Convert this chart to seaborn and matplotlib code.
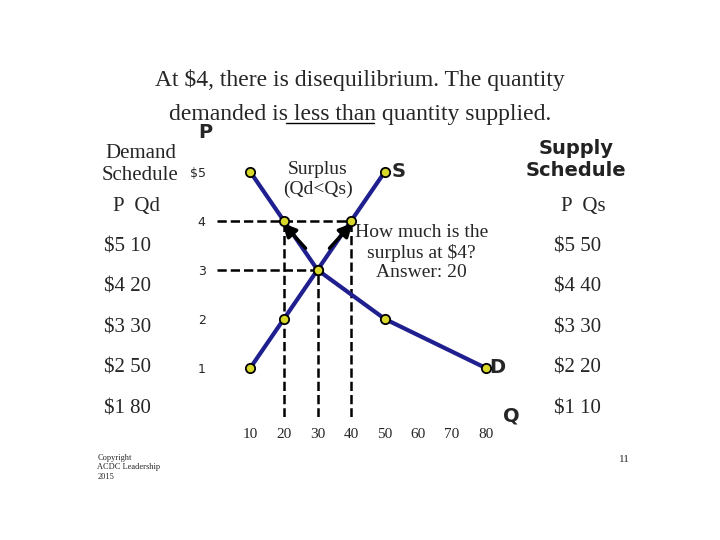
import matplotlib
matplotlib.use("Agg")
import matplotlib.pyplot as plt
import pandas as pd
import seaborn as sns

sns.set_style("white")
plt.rcParams["font.family"] = ["Liberation Serif", "DejaVu Serif"]

# ---------------- data ----------------
prices = [5, 4, 3, 2, 1]
qty_demanded = [10, 20, 30, 50, 80]
qty_supplied = [50, 40, 30, 20, 10]
x_ticks = [10, 20, 30, 40, 50, 60, 70, 80]
y_ticks = [1, 2, 3, 4, 5]

demand = pd.DataFrame({"Q": qty_demanded, "P": prices})
supply = pd.DataFrame({"Q": qty_supplied, "P": prices})

NAVY = "#1f1f8f"
DOT = "#d8d82a"

fig = plt.figure(figsize=(7.2, 5.4), dpi=100)
ax = fig.add_axes([0.301, 0.228, 0.392, 0.499])

for df in (demand, supply):
    sns.lineplot(data=df, x="Q", y="P", sort=False, color=NAVY, lw=3, ax=ax, zorder=2)
    ax.scatter(df["Q"], df["P"], s=45, color=DOT, edgecolor="black", lw=1.3, zorder=4)

# dashed guides
ax.plot([0, 40], [4, 4], ls="--", color="black", lw=1.8, zorder=1)
ax.plot([0, 30], [3, 3], ls="--", color="black", lw=1.8, zorder=1)
for q, p in [(20, 4), (40, 4), (30, 3)]:
    ax.plot([q, q], [0, p], ls="--", color="black", lw=1.8, zorder=1)

# surplus arrows
ax.annotate("", xy=(19, 4.0), xytext=(27, 3.4),
            arrowprops=dict(arrowstyle="-|>", color="black", lw=2.5, mutation_scale=20))
ax.annotate("", xy=(41, 4.0), xytext=(33, 3.4),
            arrowprops=dict(arrowstyle="-|>", color="black", lw=2.5, mutation_scale=20))

ax.set_xlim(0, 84)
ax.set_ylim(0, 5.5)
ax.set_xticks(x_ticks)
ax.set_yticks(y_ticks)
ax.set_yticklabels([str(v) if v < 5 else "$5" for v in y_ticks], family="DejaVu Sans", fontsize=9)
ax.set_xticklabels([str(v) for v in x_ticks], fontsize=11)
ax.tick_params(length=0, pad=8)
ax.set_xlabel("")
ax.set_ylabel("")
for s in ax.spines.values():
    s.set_visible(False)
ax.patch.set_alpha(0)

ax.text(30, 4.85, "Surplus\n(Qd<Qs)", ha="center", va="center", fontsize=14)
ax.text(52, 5.0, "S", fontsize=14, weight="bold", family="DejaVu Sans", va="center")
ax.text(81, 1.0, "D", fontsize=14, weight="bold", family="DejaVu Sans", va="center")
ax.text(61, 3.35, "How much is the\nsurplus at $4?\nAnswer: 20", ha="center", va="center", fontsize=14)

# slide text
fig.text(0.5, 0.84, "At $4, there is disequilibrium. The quantity", ha="center", fontsize=17)
fig.text(0.5, 0.778, "demanded is less than quantity supplied.", ha="center", fontsize=17)
fig.add_artist(plt.Line2D([0.397, 0.52], [0.772, 0.772], color="black", lw=1))

fig.text(0.275, 0.745, "P", fontsize=14, weight="bold", family="DejaVu Sans")
fig.text(0.698, 0.22, "Q", fontsize=14, weight="bold", family="DejaVu Sans")

fig.text(0.195, 0.695, "Demand\nSchedule", ha="center", va="center", fontsize=15)
fig.text(0.80, 0.705, "Supply\nSchedule", ha="center", va="center", fontsize=14,
         weight="bold", family="DejaVu Sans", color="#222222")
fig.text(0.19, 0.61, "P  Qd", ha="center", fontsize=15)
fig.text(0.81, 0.61, "P  Qs", ha="center", fontsize=15)
rows_y = [0.535, 0.46, 0.385, 0.31, 0.235]
for p, qd, qs, y in zip(prices, qty_demanded, qty_supplied, rows_y):
    fig.text(0.145, y, f"${p} {qd}", fontsize=15)
    fig.text(0.77, y, f"${p} {qs}", fontsize=15)
fig.add_artist(plt.Rectangle((0.140, 0.445), 0.125, 0.06, fill=False, lw=1.2, transform=fig.transFigure))
fig.add_artist(plt.Rectangle((0.765, 0.445), 0.125, 0.06, fill=False, lw=1.2, transform=fig.transFigure))

fig.text(0.135, 0.11, "Copyright\nACDC Leadership\n2015", fontsize=6, va="bottom")
fig.text(0.86, 0.145, "11", fontsize=8)

fig.savefig("out.png", dpi=100)
